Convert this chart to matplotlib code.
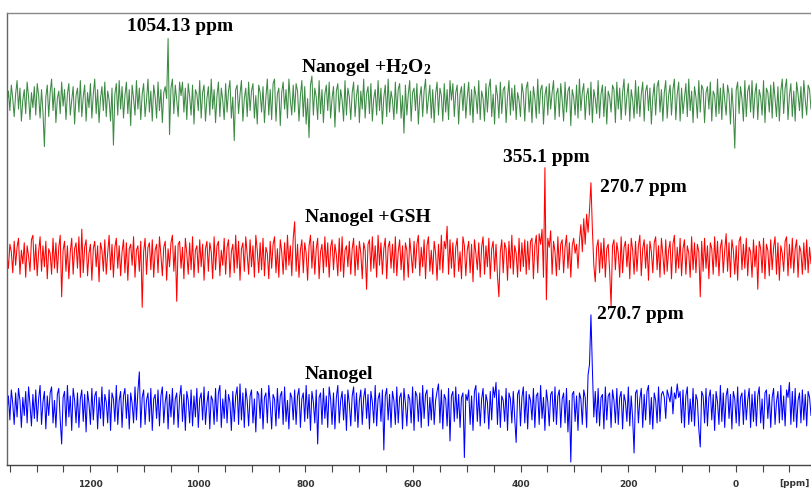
import numpy as np
import matplotlib
matplotlib.use('Agg')
import matplotlib.pyplot as plt
from matplotlib.ticker import MultipleLocator

plt.rcParams['font.family'] = 'Liberation Serif'
plt.rcParams['mathtext.fontset'] = 'custom'
plt.rcParams['mathtext.rm'] = 'Liberation Serif:bold'
plt.rcParams['mathtext.it'] = 'Liberation Serif:bold'
plt.rcParams['mathtext.bf'] = 'Liberation Serif:bold'

# chemical shift range of the recorded window (ppm, left -> right)
ppm_left, ppm_right = 1355, -140

# intensities (arbitrary units, baseline = 0)
h2o2 = [0, 8, -5, 12, 3, -9, 6, 15, -4, 10, -12, 2, 9, -7, 14, 4, -11, 7, -3, 11,
        -8, 13, 5, -10, 9, -6, -29, 4, 12, -9, 7, 16, -5, 10, -13, 3, 8, -7, 14, -2,
        9, -11, 6, 13, -8, 2, 11, -14, 5, 10, -6, 15, -9, 4, 12, -12, 7, -3, 13, -10,
        6, 16, -7, 9, -13, 3, 11, -5, 14, -9, 8, 2, -12, 10, -28, 6, 13, -8, 15, -4,
        11, -10, 5, 14, -7, 9, -15, 12, 3, -8, 15, -4, 10, -11, 6, 13, -9, 2, 16, -6,
        8, -12, 12, 4, -10, 14, -5, 9, -13, 7, 11, 3, 43, -21, 10, 16, -7, 12, 2, -9,
        14, 5, 14, -6, 10, -11, 13, 4, -8, 12, -14, 9, 6, -5, 15, -10, 7, 12, -12, 3,
        11, -8, 16, -4, 9, -13, 5, 14, -9, 10, 2, -11, 13, -6, 8, 15, -10, 4, -25, 9,
        12, -7, 6, 15, -12, 3, 10, -9, 14, -5, 8, 13, -10, 5, -14, 12, 7, -6, 11, -13,
        4, 16, -8, 9, -11, 13, 16, -12, 6, 10, -15, 7, 14, -4, 9, -10, 16, 2, -8, 12,
        -6, 13, 8, -12, 5, 15, -9, 11, -14, 3, -23, 12, 18, -8, 10, 4, -11, 15, -7, 9,
        -13, 6, 12, -5, 14, -10, 3, 11, -16, 8, 13, -6, 9, 2, -12, 15, -8, 10, 4, -11,
        7, 14, -9, 5, 12, -13, 8, -4, 16, -10, 6, 11, -7, 13, -12, 3, 9, -8, 15, -5,
        10, -14, 4, 12, -9, 16, -6, 8, 2, -11, 14, -7, 9, 13, -10, 5, -20, 12, -8, 6,
        15, -12, 7, 10, -5, 13, -14, 4, 11, -9, 8, 16, -7, 3, 12, -10, 9, -13, 6, 14,
        -8, 10, 5, -12, 13, -6, 9, -11, 15, 2, 13, -9, 7, 12, -14, 6, 11, -5, 13, -10,
        4, 14, -8, 9, -13, 11, 5, -7, 15, -11, 8, 3, -12, 13, -6, 10, 16, -9, 6, -14,
        12, 5, -10, 14, -7, 9, 11, -13, 4, 15, -8, 10, -5, 12, -11, 7, 2, -9, 13, 6,
        -12, 10, 14, -6, 8, -13, 11, 3, -10, 16, -7, 9, 12, -14, 5, 11, -8, 13, -4, 7,
        15, -11, 6, 10, -9, 13, 2, -12, 14, -6, 8, 11, -15, 9, 4, -8, 12, -10, 16, -5,
        7, 13, -11, 5, 10, -8, 14, -13, 9, 3, -7, 15, -10, 6, 12, -9, 11, -14, 8, 4,
        -6, 12, 9, -13, 14, -4, 10, -11, 7, 16, -8, 5, 13, -12, 9, 2, -10, 15, -7, 11,
        -9, 6, 14, -12, 8, 12, -5, 10, -14, 4, 13, -8, 11, 15, -6, 9, -12, 7, 15, -10,
        5, 12, -8, 9, 16, -11, 6, 14, -12, 10, -7, 3, 13, -9, 16, -5, 8, -13, 11, 4,
        -10, 15, -6, 12, 9, -13, 7, 11, -4, 14, -12, 8, 5, -9, 16, -7, 10, -11, 13, 2,
        -8, 12, 6, -14, 10, -5, -30, 9, 14, -7, 11, 3, -12, 15, -9, 8, 12, -6, 15, -10,
        6, 13, -11, 9, 4, -8, 15, -13, 10, 7, -6, 12, -10, 14, 3, -9, 11, -12, 8, 16,
        -7, 10, 16, -11, 5, 13, -9, 8, -12, 14, 6, -5, 11, -10, 15, 2, -8, 12, 9, -4]

gsh = [3, -6, 10, 5, -9, 12, -4, 8, 14, -10, 6, -3, 11, -12, 9, 2, -8, 13, 16, -7,
       10, -11, 5, 15, -8, 9, -5, 12, -13, 7, 4, -10, 14, -6, 11, -9, 8, 16, -25, 6,
       12, -8, 9, -13, 5, 14, -10, 7, 11, -6, 15, -12, 20, -9, 8, 13, -11, 4, 10, -14,
       7, 12, -5, 9, -15, 11, 6, -8, 13, -10, 4, 16, -7, 10, -12, 8, 14, -6, 9, -11,
       5, 13, -9, 11, -14, 7, 10, -4, 15, -12, 6, 9, -8, 12, -32, 5, 14, -10, 8, 11,
       -7, 13, -12, 6, 10, -9, 15, 3, -11, 8, 12, -14, 7, -5, 11, 16, -8, 9, -28, 10,
       12, -6, 8, -13, 14, 4, -10, 11, -7, 15, -12, 6, 9, -9, 13, -5, 10, -14, 7, 12,
       -8, 11, 5, -13, 15, -7, 9, 12, -11, 6, -4, 14, -10, 8, 13, -12, 5, 10, -9, 16,
       -6, 12, -14, 7, 11, -8, 15, 3, -10, 13, -5, 9, -12, 16, 6, -9, 11, -7, 14, -11,
       8, 4, -13, 12, -6, 10, 15, -9, 7, -12, 13, 5, -10, 11, -7, 16, -4, 9, -11, 14,
       25, -8, 10, -12, 6, 13, -9, 11, 4, -14, 9, 16, -6, 12, -10, 7, 14, -13, 5, 10,
       -9, 15, -5, 11, -12, 8, 13, -7, 10, 3, -11, 14, -8, 15, -12, 6, 9, -5, 12, -10,
       7, 14, -11, 9, -7, 12, 4, -13, 11, 6, -20, 10, 13, -8, 15, -6, 9, -12, 16, -4,
       11, -10, 7, 14, -13, 8, 12, -6, 10, -9, 15, -11, 5, 13, -7, 9, -14, 11, 6, -12,
       14, 3, -9, 12, -6, 10, 16, -11, 8, -5, 13, -13, 9, 15, -8, 6, -10, 12, 4, -14,
       10, -7, 16, -9, 12, 7, 22, -10, 13, -6, 11, -12, 8, 14, -8, 5, -13, 15, 9, -11,
       6, 12, -9, 10, -15, 13, 4, -7, 11, -12, 8, 15, -10, 9, -5, 14, -13, 7, 12, -8,
       10, -11, -25, 5, 13, -9, 11, 7, -14, 12, -6, 16, -10, 9, 4, -12, 14, -8, 11, -5,
       13, -10, 12, -7, 12, 14, -13, 9, 16, -9, 17, 10, 20, -12, 61, -27, 14, 8, 19, -10,
       12, 5, -11, 15, -7, 10, 13, -9, 8, 16, -6, 11, -12, 9, 14, 4, 10, -6, 12, 23,
       5, 27, 10, 30, 18, 33, 51, 20, -4, -15, 8, 13, -9, 11, -6, 14, -12, 7, 10, -8,
       -31, 9, 13, -7, 11, 4, -12, 15, -9, 8, 12, -5, 10, -13, 14, 6, -10, 12, -8, 9,
       16, -11, 7, 13, -6, 10, -14, 12, 5, -9, 11, 15, -7, 9, -12, 14, 3, -10, 13, -8,
       6, 12, -13, 10, 16, -9, 8, -6, 14, -11, 7, 13, -10, 9, 4, -12, 15, -7, 11, -9,
       10, 5, -25, 12, -8, 14, -6, 9, -13, 11, 7, -10, 15, -5, 12, -11, 8, 13, -9, 6,
       17, -8, 11, -12, 13, 6, -10, 9, -14, 12, 15, -7, 10, -6, 14, -11, 8, 5, -12, 13,
       -5, 9, -20, 12, 7, -9, 14, -13, 10, 6, -11, 13, -7, 8, 15, -10, 11, -14, 9, 4,
       -8, 12, 15, -11, 10, -6, 14, -9, 7, 13, -12, 9, 5, -10, 11, -7, 13, -9, 8, -3]

nanogel = [-2, 9, -7, 13, 4, -10, 11, -5, 14, 6, -12, 8, -4, 12, -9, 15, 3, -11, 10, -6,
           13, -8, 7, 16, -10, 5, 12, -13, 9, -4, 11, 15, -9, 6, -12, 10, 14, -7, -23, 8,
           12, -11, 16, -5, 9, -14, 14, 6, -9, 11, -12, 7, 13, -8, 10, -15, 12, 4, -10, 14,
           -7, 9, 12, -13, 8, -6, 15, -11, 10, 5, -9, 13, -14, 11, 7, -8, 16, -10, 6, 12,
           -12, 9, 14, -6, 10, -13, 11, 4, -9, 15, -7, 12, 25, -12, 8, 13, -10, 6, 11, -8,
           14, -14, 7, 10, -6, 13, -11, 9, 15, -9, 5, 12, -13, 10, -5, 14, -10, 7, 11, -12,
           8, 16, -8, 10, -14, 12, 6, -9, 13, -11, 9, -5, 14, -12, 7, 11, -7, 15, -10, 4,
           12, -13, 9, 6, -10, 14, -8, 11, 16, -12, 7, -6, 13, -9, 10, 5, -14, 12, -8, 9,
           15, -10, 17, -7, 11, -12, 14, 6, -11, 9, 13, -9, 7, -15, 12, 10, -6, 14, -13, 8,
           11, -9, 16, 4, -13, 10, 7, -11, 14, -6, 9, 12, -10, 15, -8, 6, -13, 11, 8, -7,
           13, -10, 9, 14, -12, 7, 11, -8, 16, -6, 10, -14, 12, 5, -9, 13, -23, 8, 11, -10,
           14, -6, 9, -12, 15, 7, -10, 11, -13, 8, 16, -9, 6, 12, -7, 10, -14, 13, 4, -11,
           9, 15, -8, 11, -12, 6, 13, -10, 8, 14, -6, 10, -13, 12, 5, -9, 16, -11, 7, 11,
           -8, 13, -27, 9, 14, -7, 10, -12, 12, 6, -10, 15, -9, 8, 11, -13, 14, 4, -11, 10,
           7, -9, 15, -14, 12, 9, -8, 11, -12, 16, -6, 10, 13, -11, 8, -7, 14, -10, 6, 12,
           17, -9, 13, -13, 10, 7, -11, 14, -21, 9, 12, -8, 15, -6, 10, -12, 8, 11, -32, 10,
           6, 13, -10, 9, -14, 12, 16, -8, 11, -11, 7, 14, -9, 10, 5, -13, 12, -7, 15, 8,
           18, -10, 13, -12, 9, 6, -8, 14, -14, 11, 7, -9, 12, -6, -22, 10, 13, -11, 8, 15,
           -9, 12, -13, 10, 6, -7, 14, -12, 9, 11, -10, 16, -6, 8, -14, 13, 5, -11, 10, 12,
           -8, 15, -10, 9, 13, -12, 7, 11, -9, 14, -15, 6, -35, 10, 12, -8, 9, -14, 11, 7,
           -10, 13, 8, -12, 23, 30, 63, 27, -5, 12, -9, 14, -11, 8, 10, -13, 15, -7, 9, 11,
           -12, 13, 6, -9, 14, -10, 8, 12, -13, 10, 5, -8, 15, -11, 9, -6, -29, 11, 13, -9,
           7, 14, -12, 10, -7, 12, 16, -10, 8, -13, 11, 6, -9, 15, -8, 10, 12, 8, -6, 13,
           9, 5, 15, -3, 11, 7, 17, 8, 12, -9, 13, -12, 9, 15, -10, 7, -8, 14, -11, 10,
           6, -13, -25, 12, 9, -9, 14, -11, 8, 13, -7, 10, -14, 12, 5, -10, 16, -8, 11, -12,
           9, 14, -6, 10, -13, 12, 7, -9, 15, -11, 8, 11, -10, 13, -7, 6, 14, -12, 10, -8,
           12, -11, 9, 15, -9, 7, -13, 11, 13, -6, 10, -12, 8, 14, -10, 5, 12, -9, 16, -7,
           9, -11, 13, 8, 18, -10, 12, -8, 14, -12, 6, 11, -9, 13, -7, 10, -11, 12, 8, -4]

# vertical stacking offsets (same units)
offsets = {'h2o2': 241, 'gsh': 137, 'nanogel': 37}

fig = plt.figure(figsize=(8.11, 4.91), dpi=100)
ax = fig.add_axes([7/811, 26/491, 1 - 7/811, 452/491])

for vals, key, col in [(h2o2, 'h2o2', '#3c8a44'), (gsh, 'gsh', '#ff0000'), (nanogel, 'nanogel', '#0000ff')]:
    ppm = np.linspace(ppm_left, ppm_right, len(vals))
    ax.plot(ppm, np.array(vals) + offsets[key], color=col, lw=0.75)

ax.set_xlim(ppm_left, ppm_right)
ax.set_ylim(0, 301)

lab = dict(fontsize=14, fontweight='bold', va='center', ha='left', color='black')
ax.text(1132, 292, '1054.13 ppm', **lab)
ax.text(808, 265, r'Nanogel +H$_2$O$_2$', **lab)
ax.text(432, 205, '355.1 ppm', **lab)
ax.text(252, 185, '270.7 ppm', **lab)
ax.text(801, 165, 'Nanogel +GSH', **lab)
ax.text(258, 100, '270.7 ppm', **lab)
ax.text(801, 60, 'Nanogel', **lab)

ax.xaxis.set_major_locator(MultipleLocator(200))
ax.xaxis.set_minor_locator(MultipleLocator(50))
ax.tick_params(axis='x', which='both', direction='out', length=5, width=0.8,
               color='#444444', pad=6)
for t in ax.get_xticklabels():
    t.set_family('DejaVu Sans')
    t.set_fontsize(6.5)
    t.set_fontweight('bold')
    t.set_color('#333333')
ax.set_yticks([])
ax.text(-109, -0.04, '[ppm]', transform=ax.get_xaxis_transform(), ha='center', va='center',
        family='DejaVu Sans', fontsize=6.5, fontweight='bold', color='#333333')

ax.spines['right'].set_visible(False)
ax.spines['top'].set_color('#888888')
ax.spines['left'].set_color('#666666')
ax.spines['bottom'].set_color('#444444')
for s in ['top', 'left', 'bottom']:
    ax.spines[s].set_linewidth(1.0)

fig.savefig('out.png', dpi=100)
